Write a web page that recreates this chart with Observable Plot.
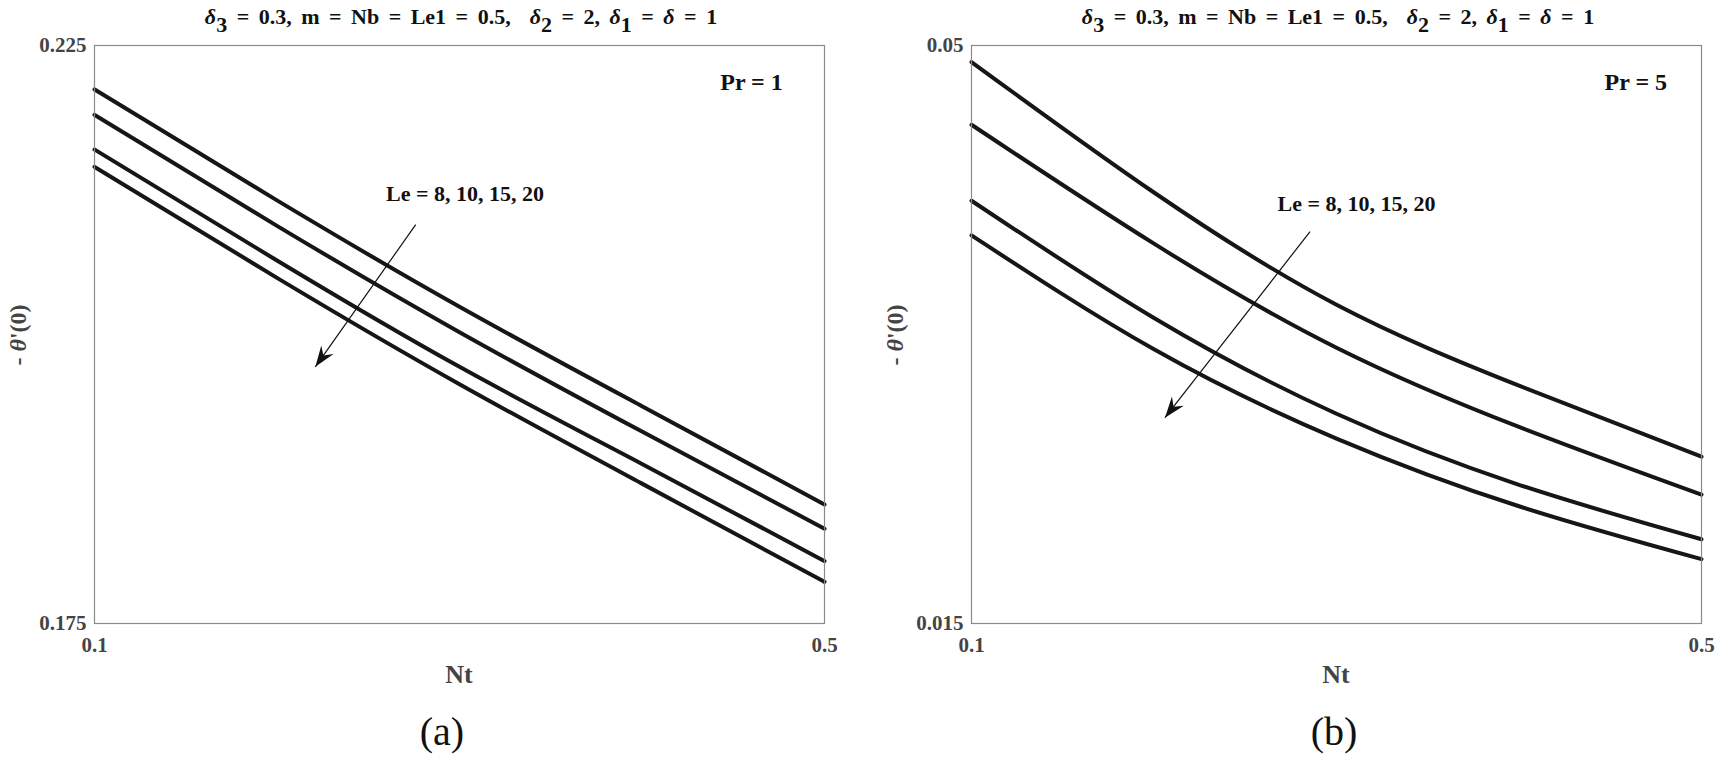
<!DOCTYPE html>
<html><head><meta charset="utf-8">
<script src="https://cdn.jsdelivr.net/npm/d3@7"></script>
<script src="https://cdn.jsdelivr.net/npm/@observablehq/plot@0.6"></script>
<style>
html,body{margin:0;padding:0;background:#fff;}
#fig{position:relative;width:1720px;height:758px;overflow:hidden;font-family:"Liberation Serif","Times New Roman",Times,serif;}
.panel{position:absolute;top:0;width:860px;height:758px;}
.panel svg{position:absolute;left:0;top:0;}
.title{position:absolute;top:6px;line-height:1;font-weight:bold;font-size:22px;word-spacing:4px;white-space:pre;transform:translateX(-50%);color:#111;}
.title i{font-style:italic;}
.title .s{position:relative;top:8px;}
.xlabel{position:absolute;top:662px;line-height:1;font-weight:bold;font-size:26px;transform:translateX(-50%);color:#444;}
.ylabel{position:absolute;top:335px;line-height:1;font-weight:bold;font-size:24px;white-space:pre;transform:translate(-50%,-50%) rotate(-90deg);color:#444;}
.ylabel i{font-style:italic;}
.cap{position:absolute;top:712px;line-height:1;font-size:40px;transform:translateX(-50%);color:#111;}
</style>
</head><body>
<div id="fig"></div>
<script>
// Nt values (x axis)
const nt = [0.1, 0.2, 0.3, 0.4, 0.5];
const leValues = [8, 10, 15, 20];

// (a) Pr = 1 : -θ'(0) for Le = 8, 10, 15, 20
const pr1Le8  = [0.2212, 0.2116, 0.2024, 0.1938, 0.1853];
const pr1Le10 = [0.2190, 0.2094, 0.2002, 0.1916, 0.1832];
const pr1Le15 = [0.2160, 0.2064, 0.1972, 0.1888, 0.1804];
const pr1Le20 = [0.2145, 0.2049, 0.1957, 0.1871, 0.1786];

// (b) Pr = 5 : -θ'(0) for Le = 8, 10, 15, 20
const pr5Le8  = [0.0490, 0.0411, 0.0343, 0.0294, 0.0251];
const pr5Le10 = [0.0452, 0.0380, 0.0317, 0.0269, 0.0228];
const pr5Le15 = [0.0406, 0.0335, 0.0277, 0.0234, 0.0201];
const pr5Le20 = [0.0385, 0.0316, 0.0262, 0.0221, 0.0189];

// axis ticks
const xTicks = [0.1, 0.5];
const yTicksA = [0.175, 0.225];
const yTicksB = [0.015, 0.05];
const xTickLabels = ["0.1", "0.5"];
const yTickLabelsA = ["0.175", "0.225"];
const yTickLabelsB = ["0.015", "0.05"];

// annotations
const prLabels = ["Pr = 1", "Pr = 5"];
const prLabelNt = [0.460, 0.464];
const prLabelVal = [0.2218, 0.0478];
const leLabel = "Le = 8, 10, 15, 20";
const leLabelNt = [0.303, 0.311];
const leLabelVal = [0.2122, 0.0404];
const arrowFromNt = [0.276, 0.2855];
const arrowFromVal = [0.2095, 0.03873];
const arrowToNt = [0.221, 0.206];
const arrowToVal = [0.1972, 0.02746];

function rows(series) {
  const out = [];
  series.forEach((vals, k) => vals.forEach((v, i) => out.push({Nt: nt[i], val: v, Le: leValues[k]})));
  return out;
}

// filled, notched arrow head marker
function notchedHead(color) {
  const m = d3.create("svg:marker")
    .attr("viewBox", "-22 -9 23 18")
    .attr("markerWidth", 23).attr("markerHeight", 18)
    .attr("markerUnits", "userSpaceOnUse")
    .attr("refX", 0).attr("refY", 0)
    .attr("orient", "auto")
    .attr("fill", color).attr("stroke", "none");
  m.append("path").attr("d", "M0,0 L-21,-7.5 L-14,0 L-21,7.5 Z");
  return m.node();
}

function panel(idx, series, yDomain, yTicks, yLabels, ml, mr) {
  const data = rows(series);
  return Plot.plot({
    width: 860, height: 700,
    marginLeft: ml, marginRight: mr, marginTop: 45, marginBottom: 77,
    style: {fontFamily: "'Liberation Serif','Times New Roman',Times,serif", fontSize: "21px", fontWeight: "bold", background: "#fff", color: "#444"},
    x: {domain: [0.1, 0.5]},
    y: {domain: yDomain},
    marks: [
      Plot.line(data, {x: "Nt", y: "val", z: "Le", stroke: "#161616", strokeWidth: 4, curve: "natural"}),
      Plot.frame({stroke: "#8a8a8a", strokeWidth: 1.2}),
      Plot.axisX({ticks: xTicks, tickFormat: (d, i) => xTickLabels[i], tickSize: 0, tickPadding: 14, label: null, fill: "#444"}),
      Plot.axisY({ticks: yTicks, tickFormat: (d, i) => yLabels[i], tickSize: 0, tickPadding: 8, label: null, fill: "#444"}),
      Plot.text([prLabels[idx]], {x: [prLabelNt[idx]], y: [prLabelVal[idx]], text: d => d, fontSize: 24, fontWeight: "bold", fill: "#111"}),
      Plot.text([leLabel], {x: [leLabelNt[idx]], y: [leLabelVal[idx]], text: d => d, fontSize: 22, fontWeight: "bold", fill: "#111"}),
      Plot.link([0], {x1: [arrowFromNt[idx]], y1: [arrowFromVal[idx]], x2: [arrowToNt[idx]], y2: [arrowToVal[idx]], stroke: "#111", strokeWidth: 1.2, markerEnd: notchedHead})
    ]
  });
}

const fig = document.getElementById("fig");
const titleHTML = '<i>δ</i><span class="s">3</span> = 0.3, m = Nb = Le1 = 0.5,  <i>δ</i><span class="s">2</span> = 2, <i>δ</i><span class="s">1</span> = <i>δ</i> = 1';

const specs = [
  {left: 0, series: [pr1Le8, pr1Le10, pr1Le15, pr1Le20], dom: [0.175, 0.225], ticks: yTicksA, labels: yTickLabelsA, ml: 94, mr: 36, cx: 461, cap: "(a)", capX: 442, ylx: 18},
  {left: 860, series: [pr5Le8, pr5Le10, pr5Le15, pr5Le20], dom: [0.015, 0.05], ticks: yTicksB, labels: yTickLabelsB, ml: 111, mr: 19, cx: 478, cap: "(b)", capX: 474, ylx: 35}
];

specs.forEach((s, idx) => {
  const div = document.createElement("div");
  div.className = "panel";
  div.style.left = s.left + "px";
  div.appendChild(panel(idx, s.series, s.dom, s.ticks, s.labels, s.ml, s.mr));
  const t = document.createElement("div");
  t.className = "title"; t.style.left = s.cx + "px"; t.innerHTML = titleHTML;
  div.appendChild(t);
  const xl = document.createElement("div");
  xl.className = "xlabel"; xl.style.left = (s.cx - 2) + "px"; xl.textContent = "Nt";
  div.appendChild(xl);
  const yl = document.createElement("div");
  yl.className = "ylabel"; yl.style.left = s.ylx + "px"; yl.innerHTML = "- <i>θ</i>'(0)";
  div.appendChild(yl);
  const c = document.createElement("div");
  c.className = "cap"; c.style.left = s.capX + "px"; c.textContent = s.cap;
  div.appendChild(c);
  fig.appendChild(div);
});
</script>
</body></html>
